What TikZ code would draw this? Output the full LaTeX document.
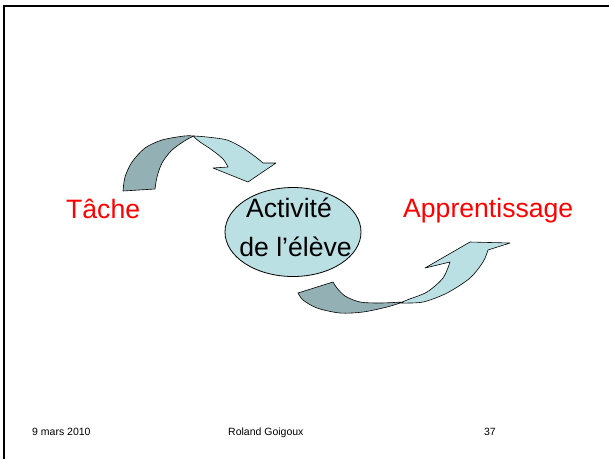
\documentclass[tikz,border=0pt]{standalone}
\usepackage{fontspec}
\setmainfont{Liberation Sans}
\usepackage{tikz}
\usetikzlibrary{shapes.geometric}

\definecolor{arrowlight}{HTML}{BBE0E3}
\definecolor{arrowdark}{HTML}{93B1B4}

\begin{document}
\begin{tikzpicture}[x=1pt,y=-1pt]
    \useasboundingbox (0,0) rectangle (609,459);
    \draw [line width=2pt] (4,459) -- (4,5.5) -- (609,5.5);

    \begin{scope}[every path/.style={draw=black,line width=0.6pt,line join=round}]
        \path [fill=arrowdark] plot[smooth] coordinates {(123,191) (125,177) (132,162) (145,148) (162,140) (184,136) (194,136)}
            -- plot[smooth] coordinates {(194,136) (186,140) (172,150) (162,163) (157,177) (155,189)} -- cycle;
        \path [fill=arrowlight] plot[smooth] coordinates {(194,136) (207,137) (227,140) (243,148) (257,158) (263,163)}
            -- (276,163) -- (248,182) -- (213,168)
            -- plot[smooth] coordinates {(228,167) (223,159) (212,150) (200,142) (194,137)} -- cycle;

        \path [fill=arrowdark] (298,293) -- plot[smooth] coordinates {(333,282) (337,288) (345,296) (360,302) (380,303) (403,302)}
            -- plot[smooth] coordinates {(403,302) (387,307) (363,312) (340,313) (317,308) (303,300) (298,293)} -- cycle;
        \path [fill=arrowlight] plot[smooth] coordinates {(401,303) (423,302) (447,293) (470,278) (483,262) (488,250)}
            -- (510,243) -- (470,242) -- (425,268)
            -- plot[smooth] coordinates {(450,262) (443,278) (427,292) (407,300) (401,303)} -- cycle;
    \end{scope}

    \begin{scope}[every node/.style={inner sep=0pt,font=\fontsize{26.6}{30}\selectfont}]
        \node [ellipse,draw,fill=arrowlight,thick,minimum width=136pt,minimum height=89pt] (act) at (293,232) {};
        \node [anchor=base] (act1) at (289,217) {Activité};
        \node [anchor=base] (act2) at (295.5,256) {de l’élève};
        \node [anchor=base west,red] (tache) at (66,218) {Tâche};
        \node [anchor=base west,red] (appr) at (403,217) {Apprentissage};
    \end{scope}

    \begin{scope}[every node/.style={inner sep=0pt,font=\fontsize{10.5}{12}\selectfont}]
        \node [anchor=base west] (date) at (32,435) {9 mars 2010};
        \node [anchor=base west] (auteur) at (228,435) {Roland Goigoux};
        \node [anchor=base east] (page) at (496,435) {37};
    \end{scope}
\end{tikzpicture}
\end{document}
